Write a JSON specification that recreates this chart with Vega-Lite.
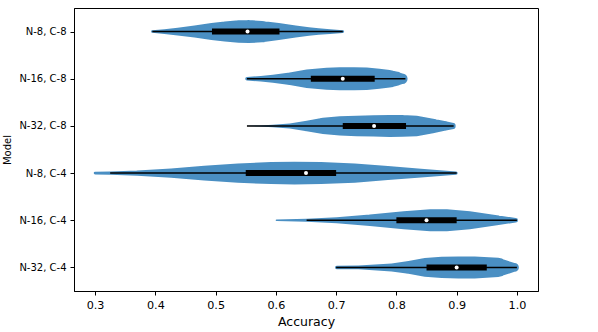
{
  "$schema": "https://vega.github.io/schema/vega-lite/v6.json",
  "width": 464,
  "height": 283,
  "autosize": {"type": "none"},
  "padding": {"left": 74, "top": 8, "right": 60, "bottom": 41},
  "background": "white",
  "config": {
    "view": {"stroke": "#000000", "strokeWidth": 1},
    "font": "DejaVu Sans",
    "axis": {
      "labelFont": "DejaVu Sans", "titleFont": "DejaVu Sans",
      "labelFontSize": 11.2, "titleFontSize": 12.5, "titleFontWeight": "normal",
      "labelColor": "#000000", "titleColor": "#000000",
      "tickColor": "#000000", "domainColor": "#000000",
      "tickSize": 4, "labelPadding": 4, "grid": false, "domainWidth": 1, "tickWidth": 1
    }
  },
  "datasets": {
    "violin": [
      {"model": "N-8, C-8", "acc": 0.395, "density": 0.11},
      {"model": "N-8, C-8", "acc": 0.415, "density": 0.2},
      {"model": "N-8, C-8", "acc": 0.437, "density": 0.33},
      {"model": "N-8, C-8", "acc": 0.465, "density": 0.52},
      {"model": "N-8, C-8", "acc": 0.493, "density": 0.74},
      {"model": "N-8, C-8", "acc": 0.515, "density": 0.87},
      {"model": "N-8, C-8", "acc": 0.538, "density": 0.98},
      {"model": "N-8, C-8", "acc": 0.555, "density": 1.0},
      {"model": "N-8, C-8", "acc": 0.577, "density": 0.93},
      {"model": "N-8, C-8", "acc": 0.605, "density": 0.74},
      {"model": "N-8, C-8", "acc": 0.633, "density": 0.52},
      {"model": "N-8, C-8", "acc": 0.655, "density": 0.37},
      {"model": "N-8, C-8", "acc": 0.671, "density": 0.28},
      {"model": "N-8, C-8", "acc": 0.69, "density": 0.2},
      {"model": "N-8, C-8", "acc": 0.711, "density": 0.12},

      {"model": "N-16, C-8", "acc": 0.552, "density": 0.15},
      {"model": "N-16, C-8", "acc": 0.575, "density": 0.24},
      {"model": "N-16, C-8", "acc": 0.595, "density": 0.35},
      {"model": "N-16, C-8", "acc": 0.623, "density": 0.55},
      {"model": "N-16, C-8", "acc": 0.651, "density": 0.81},
      {"model": "N-16, C-8", "acc": 0.684, "density": 0.96},
      {"model": "N-16, C-8", "acc": 0.706, "density": 0.99},
      {"model": "N-16, C-8", "acc": 0.73, "density": 1.0},
      {"model": "N-16, C-8", "acc": 0.751, "density": 0.97},
      {"model": "N-16, C-8", "acc": 0.772, "density": 0.88},
      {"model": "N-16, C-8", "acc": 0.789, "density": 0.76},
      {"model": "N-16, C-8", "acc": 0.8, "density": 0.62},
      {"model": "N-16, C-8", "acc": 0.81, "density": 0.45},

      {"model": "N-32, C-8", "acc": 0.552, "density": 0.01},
      {"model": "N-32, C-8", "acc": 0.573, "density": 0.04},
      {"model": "N-32, C-8", "acc": 0.595, "density": 0.11},
      {"model": "N-32, C-8", "acc": 0.623, "density": 0.22},
      {"model": "N-32, C-8", "acc": 0.651, "density": 0.46},
      {"model": "N-32, C-8", "acc": 0.678, "density": 0.7},
      {"model": "N-32, C-8", "acc": 0.706, "density": 0.83},
      {"model": "N-32, C-8", "acc": 0.734, "density": 0.89},
      {"model": "N-32, C-8", "acc": 0.762, "density": 0.93},
      {"model": "N-32, C-8", "acc": 0.789, "density": 0.96},
      {"model": "N-32, C-8", "acc": 0.81, "density": 0.95},
      {"model": "N-32, C-8", "acc": 0.834, "density": 0.89},
      {"model": "N-32, C-8", "acc": 0.861, "density": 0.63},
      {"model": "N-32, C-8", "acc": 0.88, "density": 0.43},
      {"model": "N-32, C-8", "acc": 0.893, "density": 0.28},

      {"model": "N-8, C-4", "acc": 0.3, "density": 0.12},
      {"model": "N-8, C-4", "acc": 0.325, "density": 0.14},
      {"model": "N-8, C-4", "acc": 0.37, "density": 0.23},
      {"model": "N-8, C-4", "acc": 0.426, "density": 0.4},
      {"model": "N-8, C-4", "acc": 0.481, "density": 0.64},
      {"model": "N-8, C-4", "acc": 0.537, "density": 0.84},
      {"model": "N-8, C-4", "acc": 0.592, "density": 0.96},
      {"model": "N-8, C-4", "acc": 0.631, "density": 0.99},
      {"model": "N-8, C-4", "acc": 0.675, "density": 0.96},
      {"model": "N-8, C-4", "acc": 0.731, "density": 0.84},
      {"model": "N-8, C-4", "acc": 0.786, "density": 0.61},
      {"model": "N-8, C-4", "acc": 0.841, "density": 0.38},
      {"model": "N-8, C-4", "acc": 0.899, "density": 0.14},

      {"model": "N-16, C-4", "acc": 0.601, "density": 0.07},
      {"model": "N-16, C-4", "acc": 0.651, "density": 0.12},
      {"model": "N-16, C-4", "acc": 0.701, "density": 0.26},
      {"model": "N-16, C-4", "acc": 0.756, "density": 0.49},
      {"model": "N-16, C-4", "acc": 0.812, "density": 0.78},
      {"model": "N-16, C-4", "acc": 0.856, "density": 0.96},
      {"model": "N-16, C-4", "acc": 0.884, "density": 0.96},
      {"model": "N-16, C-4", "acc": 0.922, "density": 0.78},
      {"model": "N-16, C-4", "acc": 0.967, "density": 0.43},
      {"model": "N-16, C-4", "acc": 0.998, "density": 0.2},

      {"model": "N-32, C-4", "acc": 0.701, "density": 0.15},
      {"model": "N-32, C-4", "acc": 0.737, "density": 0.17},
      {"model": "N-32, C-4", "acc": 0.792, "density": 0.35},
      {"model": "N-32, C-4", "acc": 0.82, "density": 0.55},
      {"model": "N-32, C-4", "acc": 0.847, "density": 0.81},
      {"model": "N-32, C-4", "acc": 0.875, "density": 0.93},
      {"model": "N-32, C-4", "acc": 0.903, "density": 0.96},
      {"model": "N-32, C-4", "acc": 0.93, "density": 0.96},
      {"model": "N-32, C-4", "acc": 0.969, "density": 0.84},
      {"model": "N-32, C-4", "acc": 0.996, "density": 0.38}
    ],
    "stats": [
      {"model": "N-8, C-8", "lo": 0.395, "q1": 0.494, "med": 0.553, "q3": 0.606, "hi": 0.711},
      {"model": "N-16, C-8", "lo": 0.552, "q1": 0.658, "med": 0.711, "q3": 0.764, "hi": 0.815},
      {"model": "N-32, C-8", "lo": 0.552, "q1": 0.711, "med": 0.763, "q3": 0.816, "hi": 0.895},
      {"model": "N-8, C-4", "lo": 0.325, "q1": 0.55, "med": 0.65, "q3": 0.70, "hi": 0.90},
      {"model": "N-16, C-4", "lo": 0.651, "q1": 0.80, "med": 0.85, "q3": 0.90, "hi": 1.0},
      {"model": "N-32, C-4", "lo": 0.70, "q1": 0.85, "med": 0.90, "q3": 0.95, "hi": 1.0}
    ]
  },
  "encoding": {
    "y": {
      "field": "model", "type": "nominal",
      "scale": {"type": "point", "padding": 0.5, "domain": ["N-8, C-8", "N-16, C-8", "N-32, C-8", "N-8, C-4", "N-16, C-4", "N-32, C-4"]},
      "axis": {"title": "Model", "titlePadding": 6, "labelFontSize": 10, "titleFontSize": 10}
    }
  },
  "layer": [
    {
      "data": {"name": "violin"},
      "mark": {"type": "trail", "color": "#4a8fc3"},
      "encoding": {
        "x": {
          "field": "acc", "type": "quantitative",
          "scale": {"domain": [0.265, 1.035], "nice": false, "zero": false},
          "axis": {"title": "Accuracy", "values": [0.3, 0.4, 0.5, 0.6, 0.7, 0.8, 0.9, 1.0], "format": ".1f", "titlePadding": 5}
        },
        "detail": {"field": "model", "type": "nominal"},
        "size": {"field": "density", "type": "quantitative", "scale": {"domain": [0, 1], "range": [0, 23], "zero": true}, "legend": null},
        "order": {"field": "acc", "type": "quantitative"}
      }
    },
    {
      "data": {"name": "stats"},
      "mark": {"type": "rule", "color": "#000000", "strokeWidth": 1.5},
      "encoding": {
        "x": {"field": "lo", "type": "quantitative"},
        "x2": {"field": "hi"}
      }
    },
    {
      "data": {"name": "stats"},
      "mark": {"type": "bar", "color": "#000000", "size": 6},
      "encoding": {
        "x": {"field": "q1", "type": "quantitative"},
        "x2": {"field": "q3"}
      }
    },
    {
      "data": {"name": "stats"},
      "mark": {"type": "circle", "color": "#ffffff", "opacity": 1, "size": 16},
      "encoding": {
        "x": {"field": "med", "type": "quantitative"}
      }
    }
  ]
}
